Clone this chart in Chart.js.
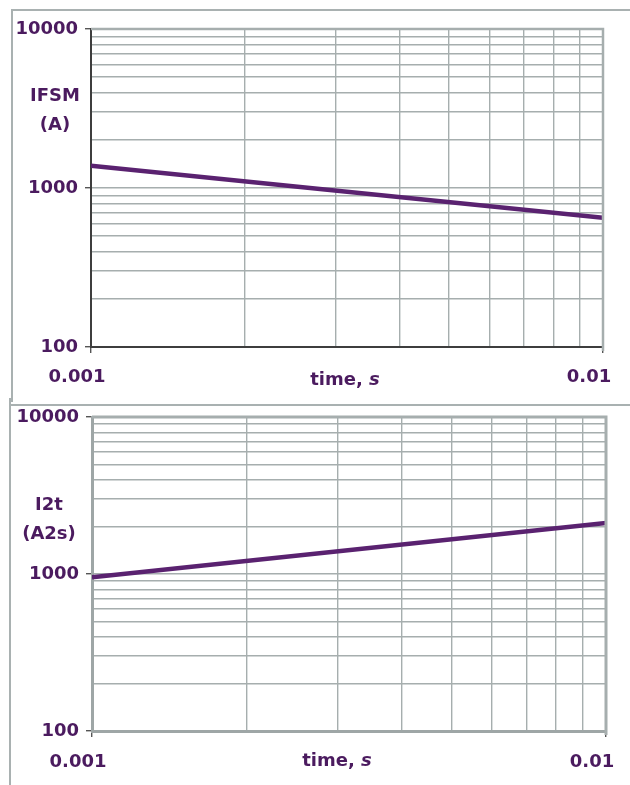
<!DOCTYPE html>
<html>
<head>
<meta charset="utf-8">
<script src="https://cdn.jsdelivr.net/npm/chart.js@4.4.1/dist/chart.umd.min.js"></script>
<style>
    body { margin: 0; background: #ffffff; width: 630px; height: 785px; overflow: hidden; position: relative; }
    .frame { position: absolute; border-color: #a9b1b1; border-style: solid; border-width: 0; }
    canvas { position: absolute; left: 0; }
</style>
</head>
<body>
<div class="frame" style="left:11px; top:9px; width:619px; height:391px; border-top-width:2px; border-left-width:2px;"></div>
<div class="frame" style="left:11px; top:404px; width:619px; height:0; border-top-width:2px;"></div>
<div class="frame" style="left:9px; top:398px; width:0; height:387px; border-left-width:2px;"></div>
<canvas id="chartTop" width="630" height="400" style="top:0;"></canvas>
<canvas id="chartBottom" width="630" height="385" style="top:400px;"></canvas>
<script>
// data
const timeS = [0.001, 0.01];
const ifsmA = [1380, 650];
const i2tA2s = [955, 2110];

// grid lines of the log axes (1..9 per decade)
const xGrid = [0.001, 0.002, 0.003, 0.004, 0.005, 0.006, 0.007, 0.008, 0.009, 0.01];
const yGrid = [100, 200, 300, 400, 500, 600, 700, 800, 900,
    1000, 2000, 3000, 4000, 5000, 6000, 7000, 8000, 9000, 10000];

const xTickLabels = [[0.001, "0.001"], [0.01, "0.01"]];
const yTickLabels = [[100, "100"], [1000, "1000"], [10000, "10000"]];

const xTitle = "time, s";
const yTitleTop = ["IFSM", "(A)"];
const yTitleBottom = ["I2t", "(A2s)"];

const textColor = "#4b1b5f";
const lineColor = "#5a2270";
const gridColor = "#a6aeae";
const fontFamily = "'DejaVu Sans', sans-serif";

function findLabel(list, value) {
    for (let i = 0; i < list.length; i++) {
        if (Math.abs(list[i][0] - value) / list[i][0] < 1e-6) {
            return list[i][1];
        }
    }
    return "";
}

function isLabelled(list, value) {
    return findLabel(list, value) !== "";
}

// axis titles are drawn as text beside the plot, not rotated
const titlePlugin = {
    id: "titles",
    afterDraw: function (chart, args, opts) {
        let ctx = chart.ctx;
        let area = chart.chartArea;
        ctx.save();
        ctx.fillStyle = textColor;
        ctx.textAlign = "center";
        ctx.textBaseline = "middle";
        ctx.font = "bold 18px " + fontFamily;
        for (let i = 0; i < opts.yLines.length; i++) {
            ctx.fillText(opts.yLines[i], opts.yX, opts.yY + i * 29);
        }
        // "time, " upright, "s" italic
        let parts = xTitle.split(" ");
        let first = parts[0] + " ";
        let w1 = ctx.measureText(first).width;
        ctx.font = "italic bold 18px " + fontFamily;
        let w2 = ctx.measureText(parts[1]).width;
        let x0 = opts.xX - (w1 + w2) / 2;
        ctx.textAlign = "left";
        ctx.font = "bold 18px " + fontFamily;
        ctx.fillText(first, x0, area.bottom + opts.xDy);
        ctx.font = "italic bold 18px " + fontFamily;
        ctx.fillText(parts[1], x0 + w1, area.bottom + opts.xDy);
        ctx.restore();
    }
};

function makeChart(canvasId, values, layout) {
    let ctx = document.getElementById(canvasId).getContext("2d");
    let points = timeS.map(function (t, i) {
        return {x: t, y: values[i]};
    });
    let config = {
        type: "scatter",
        data: {
            datasets: [{
                data: points,
                showLine: true,
                borderColor: lineColor,
                borderWidth: 4.5,
                borderCapStyle: "butt",
                pointRadius: 0,
                pointHoverRadius: 0
            }]
        },
        options: {
            responsive: false,
            animation: false,
            events: [],
            layout: {padding: layout.padding},
            plugins: {
                legend: {display: false},
                tooltip: {enabled: false},
                titles: layout.titles
            },
            scales: {
                x: {
                    type: "logarithmic",
                    min: 0.001,
                    max: 0.01,
                    afterBuildTicks: function (scale) {
                        scale.ticks = xGrid.map(function (v) { return {value: v}; });
                    },
                    afterFit: function (scale) {
                        scale.height = layout.xHeight;
                        scale.paddingLeft = 0;
                        scale.paddingRight = 0;
                    },
                    border: {color: layout.xBorder, width: layout.xBorderWidth},
                    grid: {
                        color: gridColor,
                        lineWidth: 1.4,
                        tickLength: 6,
                        tickColor: function (c) {
                            return c.tick && isLabelled(xTickLabels, c.tick.value) ? "#555555" : "rgba(0,0,0,0)";
                        }
                    },
                    ticks: {
                        autoSkip: false,
                        maxRotation: 0,
                        labelOffset: -14,
                        padding: layout.xPad,
                        color: textColor,
                        font: {family: fontFamily, size: 18, weight: "bold"},
                        callback: function (value) { return findLabel(xTickLabels, value); }
                    }
                },
                y: {
                    type: "logarithmic",
                    min: 100,
                    max: 10000,
                    afterBuildTicks: function (scale) {
                        scale.ticks = yGrid.map(function (v) { return {value: v}; });
                    },
                    afterFit: function (scale) {
                        scale.width = layout.yWidth;
                        scale.paddingTop = 0;
                        scale.paddingBottom = 0;
                    },
                    border: {color: layout.yBorder, width: layout.yBorderWidth},
                    grid: {
                        color: gridColor,
                        lineWidth: 1.4,
                        tickLength: 6,
                        tickColor: function (c) {
                            return c.tick && isLabelled(yTickLabels, c.tick.value) ? "#555555" : "rgba(0,0,0,0)";
                        }
                    },
                    ticks: {
                        autoSkip: false,
                        padding: 7,
                        color: textColor,
                        font: {family: fontFamily, size: 18, weight: "bold"},
                        callback: function (value) { return findLabel(yTickLabels, value); }
                    }
                }
            }
        },
        plugins: [titlePlugin, {
            id: "edges",
            afterDraw: function (chart) {
                let c = chart.ctx;
                let a = chart.chartArea;
                c.save();
                c.strokeStyle = gridColor;
                c.lineWidth = layout.edgeWidth;
                c.beginPath();
                c.moveTo(a.left, a.top);
                c.lineTo(a.right, a.top);
                c.lineTo(a.right, a.bottom + 4);
                c.stroke();
                c.restore();
            }
        }]
    };
    return new Chart(ctx, config);
}

let topChart = makeChart("chartTop", ifsmA, {
    padding: {left: 0, right: 27, top: 29, bottom: 0},
    xHeight: 53,
    yWidth: 91,
    xPad: 14,
    xBorder: "#3e3e3e",
    xBorderWidth: 2,
    yBorder: "#3e3e3e",
    yBorderWidth: 2,
    edgeWidth: 2.5,
    titles: {yLines: yTitleTop, yX: 55, yY: 96, xX: 345, xDy: 33}
});

let bottomChart = makeChart("chartBottom", i2tA2s, {
    padding: {left: 0, right: 24, top: 17, bottom: 0},
    xHeight: 54,
    yWidth: 92,
    xPad: 15,
    xBorder: "#9ea6a6",
    xBorderWidth: 3,
    yBorder: "#9ea6a6",
    yBorderWidth: 3,
    edgeWidth: 3,
    titles: {yLines: yTitleBottom, yX: 49, yY: 105, xX: 337, xDy: 30}
});
</script>
</body>
</html>
